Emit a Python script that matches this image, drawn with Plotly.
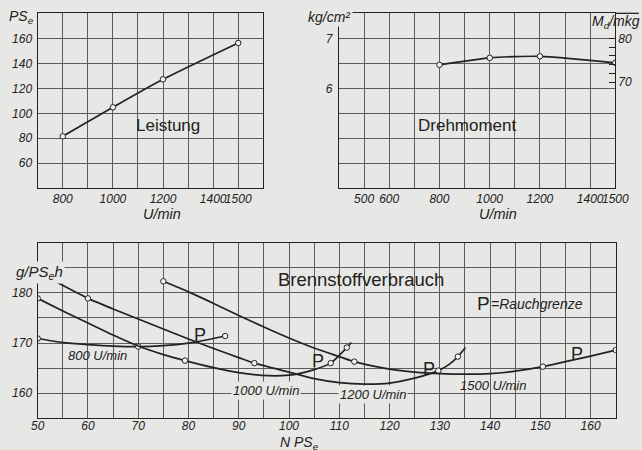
import plotly.graph_objects as go

BG = "#e7e7e5"
INK = "#222222"
GRID = "#5c5c5c"
FONT = "Liberation Sans"

# ---------------- data ----------------
# Leistung (top left)
rpm_power = [800, 1000, 1200, 1500]
power_pse = [81.6, 104.8, 127.2, 156.3]

# Drehmoment (top right), mean effective pressure kg/cm²
rpm_torque = [800, 1000, 1200, 1500]
torque_pe = [6.47, 6.61, 6.64, 6.51]
md_ticks = [70, 72, 74, 76, 78, 80]          # right axis M_d / mkg
md_labels = ["70", "", "", "", "", "80"]
md_per_pe = 80 / 7                            # right-axis scale (80 mkg <-> 7 kg/cm²)

# Brennstoffverbrauch (bottom): curve reading points and measured points
n800 = [50, 55, 60, 65, 70, 75, 80, 84, 87.3]
b800 = [170.9, 170.1, 169.7, 169.4, 169.3, 169.5, 170.0, 170.7, 171.4]
n800_pts = [50, 70, 87.3]
b800_pts = [170.9, 169.3, 171.4]

n1000 = [50, 55, 60, 65, 70, 75, 79.3, 85, 90, 96, 100, 102, 105, 108.3, 111.5, 112.4]
b1000 = [178.9, 176.4, 174.0, 171.6, 169.4, 167.7, 166.5, 165.1, 164.1, 163.5, 163.6, 163.9, 164.7, 166.0, 169.1, 170.1]
n1000_pts = [50, 79.3, 108.3, 111.5]
b1000_pts = [178.9, 166.5, 166.0, 169.1]

n1200 = [54, 60, 65, 70, 75, 80, 85, 90, 93.1, 100, 105, 110, 115, 120, 125, 127.8, 129.7, 131.8, 133.6, 135.1]
b1200 = [182.0, 178.9, 176.8, 174.8, 172.8, 170.8, 168.9, 167.1, 166.0, 164.2, 162.9, 162.1, 161.8, 162.0, 163.0, 163.8, 164.5, 165.7, 167.3, 169.1]
n1200_pts = [60, 93.1, 129.7, 133.6]
b1200_pts = [178.9, 166.0, 164.5, 167.3]

n1500 = [75, 80, 85, 90, 95, 100, 105, 110, 113, 120, 125, 130, 135, 140, 145, 150.5, 155, 160, 165]
b1500 = [182.3, 180.2, 177.9, 175.5, 173.2, 171.0, 169.0, 167.3, 166.3, 164.8, 164.2, 163.9, 163.8, 163.9, 164.4, 165.3, 166.3, 167.4, 168.6]
n1500_pts = [75, 113, 150.5, 165]
b1500_pts = [182.3, 166.3, 165.3, 168.6]

# smoke-limit marks "P"
p_n = [82.3, 105.8, 127.8, 157.3]
p_b = [171.7, 166.4, 164.9, 167.8]

# ---------------- figure ----------------
fig = go.Figure()

line_style = dict(color=INK, width=1.7, shape="spline", smoothing=0.6)
marker_style = dict(symbol="circle", size=5.5, color="#f4f4f2",
                    line=dict(color=INK, width=1))


def curve(x, y, xa, ya):
    fig.add_trace(go.Scatter(x=x, y=y, mode="lines", line=line_style,
                             xaxis=xa, yaxis=ya, showlegend=False,
                             hoverinfo="skip"))


def points(x, y, xa, ya):
    fig.add_trace(go.Scatter(x=x, y=y, mode="markers", marker=marker_style,
                             xaxis=xa, yaxis=ya, showlegend=False))


curve(rpm_power, power_pse, "x", "y")
points(rpm_power, power_pse, "x", "y")

curve(rpm_torque, torque_pe, "x2", "y2")
points(rpm_torque, torque_pe, "x2", "y2")

for nx, by, px, py in [(n800, b800, n800_pts, b800_pts),
                       (n1000, b1000, n1000_pts, b1000_pts),
                       (n1200, b1200, n1200_pts, b1200_pts),
                       (n1500, b1500, n1500_pts, b1500_pts)]:
    curve(nx, by, "x3", "y3")
    points(px, py, "x3", "y3")

# invisible trace to activate right axis
fig.add_trace(go.Scatter(x=[None], y=[None], xaxis="x2", yaxis="y4",
                         showlegend=False))

tickfont = dict(family=FONT, size=12, color=INK, style="italic")
common = dict(showgrid=True, gridcolor=GRID, gridwidth=1, showline=True,
              linecolor=INK, linewidth=1.3, mirror=True, zeroline=False,
              ticks="", tickfont=tickfont, automargin=False, tickangle=0)

fig.update_layout(
    template="none",
    width=642, height=450,
    margin=dict(l=0, r=0, t=0, b=0, autoexpand=False),
    paper_bgcolor=BG, plot_bgcolor=BG,
    showlegend=False,
    xaxis=dict(domain=[0.0587, 0.4101], anchor="y", range=[700, 1600],
               tickvals=[800, 900, 1000, 1100, 1200, 1300, 1400, 1500],
               ticktext=["800", "", "1000", "", "1200", "", "1400", "1500"],
               ticklabelstandoff=-1, **common),
    yaxis=dict(domain=[0.5816, 0.9704], anchor="x", range=[40, 180],
               tickvals=[60, 80, 100, 120, 140, 160], ticklabelstandoff=2,
               **common),
    xaxis2=dict(domain=[0.528, 0.9584], anchor="y2", range=[400, 1500],
                tickvals=list(range(500, 1500, 100)) + [1500],
                ticktext=["500", "600", "", "800", "", "1000", "", "1200", "", "1400", "1500"],
                ticklabelstandoff=-1, **common),
    yaxis2=dict(domain=[0.5816, 0.9704], anchor="x2", range=[4.0, 7.5],
                tickvals=[4.5, 5.0, 5.5, 6.0, 6.5, 7.0],
                ticktext=["", "", "", "6", "", "7"], ticklabelstandoff=3,
                **common),
    yaxis4=dict(overlaying="y2", anchor="x2", side="right",
                range=[4.0 * md_per_pe, 7.5 * md_per_pe],
                tickvals=md_ticks, ticktext=md_labels, ticks="inside",
                ticklen=6, tickcolor=INK, tickwidth=1, showgrid=False,
                zeroline=False, showline=False, tickfont=tickfont,
                ticklabelstandoff=2, automargin=False),
    xaxis3=dict(domain=[0.0587, 0.9591], anchor="y3", range=[50, 165],
                tickvals=list(range(50, 165, 5)),
                ticktext=[str(v) if v % 10 == 0 else "" for v in range(50, 165, 5)],
                ticklabelstandoff=-4, **common),
    yaxis3=dict(domain=[0.0704, 0.4607], anchor="x3", range=[155, 190],
                tickvals=[160, 165, 170, 175, 180, 185],
                ticktext=["160", "", "170", "", "180", ""],
                ticklabelstandoff=2, **common),
)

italic = lambda s: dict(family=FONT, size=s, color=INK, style="italic")
upright = lambda s: dict(family=FONT, size=s, color=INK)

ann = []
# axis titles (paper coordinates)
ann.append(dict(text="PS<sub>e</sub>", x=0.033, y=0.962, font=italic(14)))
ann.append(dict(text="U/min", x=0.2531, y=0.524, font=italic(14.5)))
ann.append(dict(text="U/min", x=0.775, y=0.524, font=italic(14.5)))
ann.append(dict(text="kg/cm²", x=0.5125, y=0.962, font=italic(14), bgcolor=BG))
ann.append(dict(text="M<sub>d</sub>/mkg", x=0.96, y=0.951, font=italic(14)))
ann.append(dict(text="g/PS<sub>e</sub>h", x=0.062, y=0.395, font=italic(15), bgcolor=BG))
ann.append(dict(text="N PS<sub>e</sub>", x=0.467, y=0.016, font=italic(14),
                borderpad=0))
for a in ann:
    a.update(xref="paper", yref="paper", showarrow=False,
             xanchor="center", yanchor="middle")

inner = [
    dict(text="Leistung", x=1219, y=90.6, xref="x", yref="y", font=upright(17)),
    dict(text="Drehmoment", x=911, y=5.26, xref="x2", yref="y2", font=upright(17)),
    dict(text="Brennstoffverbrauch", x=114.3, y=182.6, xref="x3", yref="y3", font=upright(18.5)),
    dict(text="P", x=138.7, y=177.8, xref="x3", yref="y3", font=upright(19)),
    dict(text="=Rauchgrenze", x=149.3, y=177.8, xref="x3", yref="y3", font=italic(14)),
    dict(text="800 U/min", x=61.9, y=167.5, xref="x3", yref="y3", font=italic(13)),
    dict(text="1000 U/min", x=95.5, y=160.5, xref="x3", yref="y3", font=italic(13), bgcolor=BG),
    dict(text="1200 U/min", x=116.7, y=159.8, xref="x3", yref="y3", font=italic(13), bgcolor=BG),
    dict(text="1500 U/min", x=140.5, y=161.6, xref="x3", yref="y3", font=italic(13)),
]
for xv, yv in zip(p_n, p_b):
    inner.append(dict(text="P", x=xv, y=yv, xref="x3", yref="y3", font=upright(18)))
for a in inner:
    a.update(showarrow=False, xanchor="center", yanchor="middle")

fig.update_layout(annotations=ann + inner)

# extension of the top line of the torque panel to the right
fig.add_shape(type="line", xref="paper", yref="paper", x0=0.9584, x1=0.995,
              y0=0.9704, y1=0.9704, line=dict(color=INK, width=1.3))

page_js = ("document.body.style.margin='0';"
           "document.body.style.background='" + BG + "';")
fig.write_html("out.html", post_script=page_js,
               config={"displayModeBar": False})
